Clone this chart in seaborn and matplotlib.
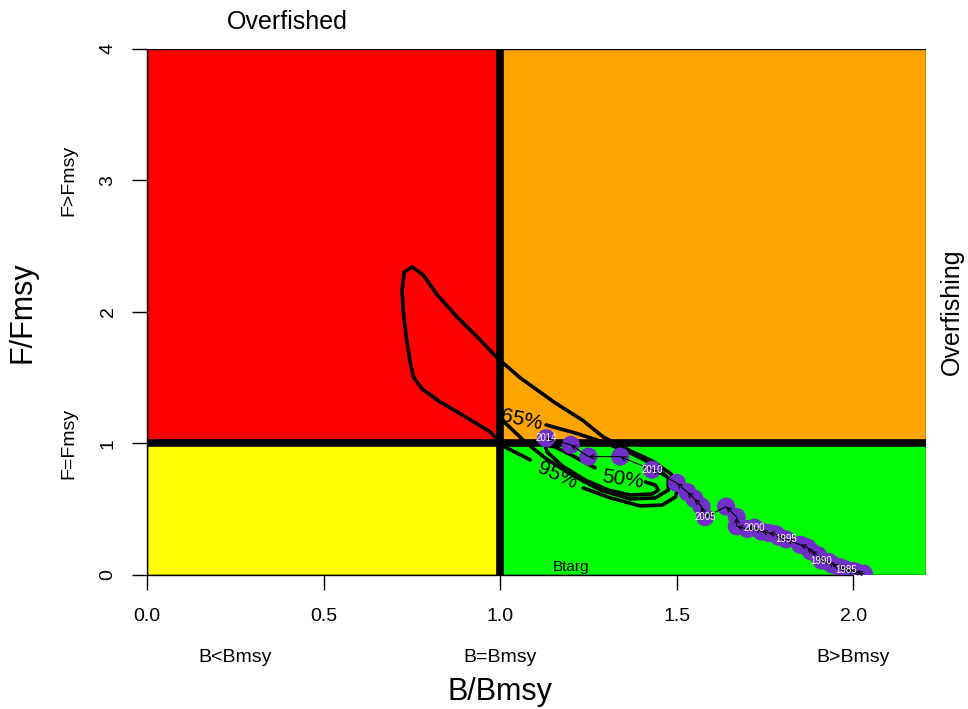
import matplotlib.pyplot as plt
import numpy as np
import seaborn as sns
from matplotlib.patches import Rectangle
from matplotlib.transforms import blended_transform_factory

# trajectory
years = list(range(1980, 2015))
b_bmsy = [2.03, 2.01, 2.01, 2.00, 1.99, 1.98, 1.97, 1.96, 1.94, 1.93,
          1.91, 1.90, 1.88, 1.87, 1.85, 1.81, 1.79, 1.78, 1.76, 1.74,
          1.72, 1.70, 1.67, 1.67, 1.64, 1.58, 1.57, 1.55, 1.53, 1.50,
          1.43, 1.34, 1.25, 1.20, 1.13]
f_fmsy = [0.01, 0.02, 0.02, 0.03, 0.03, 0.04, 0.05, 0.06, 0.08, 0.10,
          0.11, 0.15, 0.18, 0.21, 0.23, 0.27, 0.29, 0.31, 0.32, 0.33,
          0.36, 0.35, 0.37, 0.44, 0.52, 0.44, 0.52, 0.58, 0.63, 0.70,
          0.80, 0.90, 0.90, 0.99, 1.04]
labelled_years = [1985, 1990, 1995, 2000, 2005, 2010, 2014]

# confidence contours of the last year (gaps are where the labels sit)
c95_x = [1.235, 1.312, 1.397, 1.459, 1.496, 1.504, 1.484, 1.431, 1.363, 1.292,
         1.232, 1.156, 1.057, 0.992, 0.935, 0.878, 0.822, 0.782, 0.751, 0.728,
         0.722, 0.725, 0.734, 0.745, 0.754, 0.779, 0.830, 0.907, 0.972, 1.008, 1.085]
c95_y = [0.662, 0.586, 0.525, 0.532, 0.593, 0.669, 0.768, 0.867, 0.951, 1.049,
         1.179, 1.308, 1.498, 1.650, 1.810, 1.962, 2.129, 2.281, 2.342, 2.304,
         2.167, 2.015, 1.802, 1.620, 1.506, 1.414, 1.316, 1.194, 1.087, 0.981, 0.875]
c65_x = [1.130, 1.212, 1.283, 1.363, 1.431, 1.476, 1.476, 1.439, 1.368, 1.283,
         1.198, 1.127, 1.071, 1.023, 0.992]
c65_y = [1.141, 1.080, 1.019, 0.935, 0.844, 0.738, 0.646, 0.586, 0.578, 0.646,
         0.768, 0.890, 1.011, 1.133, 1.209]
c50_x = [1.411, 1.439, 1.448, 1.431, 1.368, 1.306, 1.241, 1.176, 1.133, 1.127,
         1.156, 1.212, 1.269]
c50_y = [0.707, 0.684, 0.646, 0.616, 0.608, 0.646, 0.722, 0.829, 0.935, 0.989,
         0.973, 0.897, 0.814]
contour_labels = ["95%", "65%", "50%"]
contour_label_x = [1.161, 1.062, 1.346]
contour_label_y = [0.755, 1.179, 0.725]
contour_label_rot = [-24, -12, -8]

x_ticks = [0.0, 0.5, 1.0, 1.5, 2.0]
y_ticks = [0, 1, 2, 3, 4]
b_zone_labels = ["B<Bmsy", "B=Bmsy", "B>Bmsy"]
b_zone_pos = [0.25, 1.0, 2.0]
f_zone_labels = ["F>Fmsy", "F=Fmsy"]
f_zone_pos = [3, 1]

XMAX = 2.207
YMAX = 4

sns.set_style("ticks")
plt.rcParams["font.family"] = ["Liberation Sans", "DejaVu Sans"]
plt.rcParams["text.color"] = "black"
plt.rcParams["axes.labelcolor"] = "black"

fig, ax = plt.subplots(figsize=(9.68, 7.09), dpi=100)
fig.subplots_adjust(left=0.152, right=0.957, bottom=0.189, top=0.931)

# kobe quadrants
ax.add_patch(Rectangle((0, 1), 1, YMAX - 1, fc="#FF0000", ec="black", lw=1, zorder=1))
ax.add_patch(Rectangle((1, 1), XMAX - 1, YMAX - 1, fc="#FFA500", ec="black", lw=1, zorder=1))
ax.add_patch(Rectangle((0, 0), 1, 1, fc="#FFFF00", ec="black", lw=1, zorder=1))
ax.add_patch(Rectangle((1, 0), XMAX - 1, 1, fc="#00FF00", ec="black", lw=1, zorder=1))
ax.axvline(1, color="black", lw=5.5, zorder=2)
ax.axhline(1, color="black", lw=5.5, zorder=2)

# contours
for cx, cy in [(c95_x, c95_y), (c65_x, c65_y), (c50_x, c50_y)]:
    ax.plot(cx, cy, color="black", lw=2.6, solid_capstyle="round", zorder=3)
for lab, lx, ly, rot in zip(contour_labels, contour_label_x, contour_label_y, contour_label_rot):
    ax.text(lx, ly, lab, fontsize=15, color="black", ha="center", va="center",
            rotation=rot, rotation_mode="anchor", zorder=4)

# trajectory
sns.scatterplot(x=b_bmsy, y=f_fmsy, s=170, color="#7030C8", edgecolor="none", ax=ax, zorder=5)
for i in range(len(years) - 1):
    ax.annotate("", xy=(b_bmsy[i + 1], f_fmsy[i + 1]), xytext=(b_bmsy[i], f_fmsy[i]),
                arrowprops=dict(arrowstyle="->", color="black", lw=0.8,
                                shrinkA=0, shrinkB=0, mutation_scale=8), zorder=6)
for yr, bx, fy in zip(years, b_bmsy, f_fmsy):
    if yr in labelled_years:
        ax.text(bx, fy, str(yr), color="white", fontsize=7, ha="center", va="center", zorder=7)

ax.text(1.2, 0.06, "Btarg", fontsize=11, ha="center", va="center", zorder=4)

ax.set_xlim(0, XMAX)
ax.set_ylim(0, YMAX)
ax.set_xticks(x_ticks)
ax.set_xticklabels([f"{v:.1f}" for v in x_ticks])
ax.set_yticks(y_ticks)
ax.set_yticklabels([str(v) for v in y_ticks])
plt.setp(ax.get_yticklabels(), rotation=90, va="center")
ax.tick_params(axis="both", length=11, width=1, labelsize=14, colors="black")
ax.tick_params(axis="x", pad=13)
ax.tick_params(axis="y", pad=11)
sns.despine(ax=ax)
ax.spines["left"].set_bounds(0, YMAX)
ax.spines["bottom"].set_bounds(0, 2)
for sp in ["left", "bottom"]:
    ax.spines[sp].set_color("black")
    ax.spines[sp].set_linewidth(1)

# margin annotations
xtrans = blended_transform_factory(ax.transAxes, ax.transData)
ytrans = blended_transform_factory(ax.transData, ax.transAxes)
for lab, pos in zip(f_zone_labels, f_zone_pos):
    ax.text(-0.101, pos, lab, transform=xtrans, rotation=90, fontsize=14,
            ha="center", va="center", clip_on=False)
for lab, pos in zip(b_zone_labels, b_zone_pos):
    ax.text(pos, -0.156, lab, transform=ytrans, fontsize=14,
            ha="center", va="center", clip_on=False)
ax.text(0.397, 1.051, "Overfished", transform=ytrans, fontsize=18,
        ha="center", va="center", clip_on=False)
ax.text(1.033, 2.0, "Overfishing", transform=xtrans, rotation=90, fontsize=18,
        ha="center", va="center", clip_on=False)
ax.text(1.0, -0.222, "B/Bmsy", transform=ytrans, fontsize=22,
        ha="center", va="center", clip_on=False)
ax.text(-0.160, 2.0, "F/Fmsy", transform=xtrans, rotation=90, fontsize=22,
        ha="center", va="center", clip_on=False)

plt.savefig("out.png", dpi=100)
plt.close()
